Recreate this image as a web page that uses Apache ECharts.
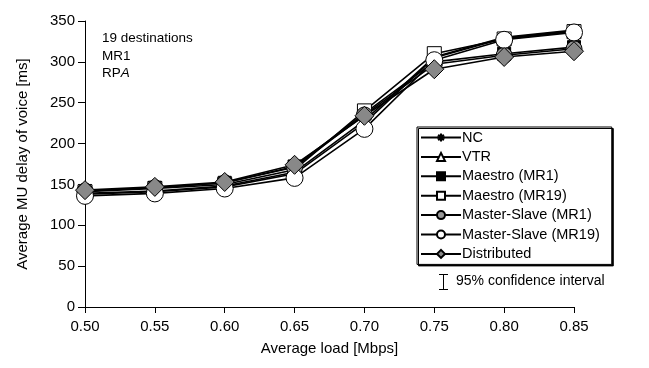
<!DOCTYPE html>
<html><head><meta charset="utf-8">
<script src="https://cdn.jsdelivr.net/npm/echarts@6/dist/echarts.min.js"></script>
<style>html,body{margin:0;padding:0;background:#fff}#c{width:649px;height:368px}</style>
</head><body><div id="c"></div>
<script>
var loads = ['0.50','0.55','0.60','0.65','0.70','0.75','0.80','0.85'];
var yTicks = [0,50,100,150,200,250,300,350];
var nc = [138,141,147,163,225,305,329,338];
var vtr = [139,142,148,165,228,306,330,339];
var maestroMR1 = [142,146,152,172,237,300,310,318];
var maestroMR19 = [141,145,150,168,240,310,328,337];
var msMR1 = [142,146,152,171,235,297,308,316];
var msMR19 = [136,139,145,158,218,302,327,336];
var distributed = [143,147,153,174,234,291,306,313];
var names = ['NC','VTR','Maestro (MR1)','Maestro (MR19)','Master-Slave (MR1)','Master-Slave (MR19)','Distributed'];

var FONT = '"Liberation Sans", Arial, sans-serif';
var asterisk = 'path://M0,5L10,5M5,0L5,10M1.5,1.5L8.5,8.5M8.5,1.5L1.5,8.5';

function mk(name, data, symbol, size, fill, bw) {
  return {
    name: name, type: 'line', data: data, symbol: symbol, symbolSize: size,
    showAllSymbol: true,
    lineStyle: {color: '#000', width: 1.6},
    itemStyle: {color: fill, borderColor: '#000', borderWidth: bw},
    emphasis: {disabled: true}, animation: false
  };
}

var chart = echarts.init(document.getElementById('c'));
chart.setOption({
  animation: false,
  textStyle: {fontFamily: FONT},
  grid: {left: 85, right: 75, top: 21, bottom: 61},
  xAxis: {
    type: 'category', data: loads, boundaryGap: false,
    name: 'Average load [Mbps]', nameLocation: 'middle', nameGap: 34,
    nameTextStyle: {fontSize: 15, color: '#000', fontFamily: FONT},
    axisLine: {lineStyle: {color: '#000', width: 1}},
    axisTick: {alignWithLabel: true, length: 6, lineStyle: {color: '#000'}},
    axisLabel: {fontSize: 15, color: '#000', margin: 12, fontFamily: FONT},
    splitLine: {show: false}
  },
  yAxis: {
    type: 'value', min: yTicks[0], max: yTicks[yTicks.length-1], interval: 50,
    name: 'Average MU delay of voice [ms]', nameLocation: 'middle', nameGap: 55,
    nameTextStyle: {fontSize: 15, color: '#000', fontFamily: FONT},
    axisLine: {show: true, lineStyle: {color: '#000', width: 1}},
    axisTick: {show: true, length: 7, lineStyle: {color: '#000'}},
    axisLabel: {fontSize: 15, color: '#000', margin: 10, fontFamily: FONT},
    splitLine: {show: false}
  },
  legend: {
    orient: 'vertical', left: 417, top: 127,
    data: names,
    itemWidth: 40, itemHeight: 10, itemGap: 4.4,
    padding: [3, 12, 3, 3],
    borderColor: '#000', borderWidth: 1, backgroundColor: '#fff',
    shadowColor: '#000', shadowOffsetX: 1.5, shadowOffsetY: 1.5, shadowBlur: 0,
    textStyle: {fontSize: 14.5, lineHeight: 14, color: '#000', fontFamily: FONT, padding: [0,0,0,-4]},
    selectedMode: false
  },
  series: [
    mk(names[0], nc, asterisk, 10, 'none', 1),
    mk(names[1], vtr, 'triangle', 12, '#fff', 1),
    mk(names[2], maestroMR1, 'rect', 13, '#000', 1),
    mk(names[3], maestroMR19, 'rect', 14, '#fff', 1),
    mk(names[4], msMR1, 'circle', 16, '#999', 1),
    mk(names[5], msMR19, 'circle', 17, '#fff', 1),
    mk(names[6], distributed, 'diamond', 19, '#888', 1)
  ],
  graphic: [
    {type: 'text', left: 102, top: 31, style: {text: '19 destinations', font: '13.5px ' + FONT, fill: '#000'}},
    {type: 'text', left: 102, top: 49, style: {text: 'MR1', font: '13.5px ' + FONT, fill: '#000'}},
    {type: 'text', left: 102, top: 66, style: {text: '{n|RP}{i|A}', rich: {n: {font: '13.5px ' + FONT, fill: '#000'}, i: {font: 'italic 13.5px ' + FONT, fill: '#000'}}}},
    {type: 'line', shape: {x1: 443.5, y1: 274, x2: 443.5, y2: 290}, style: {stroke: '#000', lineWidth: 1}},
    {type: 'line', shape: {x1: 439, y1: 274.5, x2: 448, y2: 274.5}, style: {stroke: '#000', lineWidth: 1}},
    {type: 'line', shape: {x1: 439, y1: 289.5, x2: 448, y2: 289.5}, style: {stroke: '#000', lineWidth: 1}},
    {type: 'text', left: 456, top: 274, style: {text: '95% confidence interval', font: '14px ' + FONT, fill: '#000'}}
  ]
});
</script></body></html>
